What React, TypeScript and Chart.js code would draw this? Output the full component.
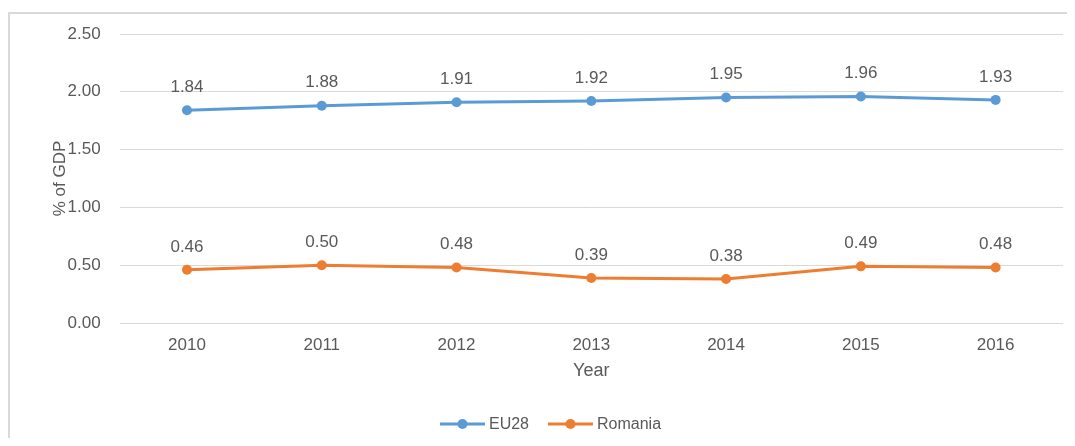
import React, { useEffect, useRef } from "react";
import { Chart, registerables } from "chart.js";

Chart.register(...registerables);

const years = ["2010", "2011", "2012", "2013", "2014", "2015", "2016"];
const eu28 = [1.84, 1.88, 1.91, 1.92, 1.95, 1.96, 1.93];
const romania = [0.46, 0.5, 0.48, 0.39, 0.38, 0.49, 0.48];
const seriesNames = ["EU28", "Romania"];
const seriesColors = ["#5B9BD5", "#ED7D31"];

const TEXT = "#595959";
const GRID = "#d9d9d9";
const FONT = "'Liberation Sans', Arial, sans-serif";
const FS = 17;

const dataLabels = {
  id: "dataLabels",
  afterDatasetsDraw(chart: any) {
    const ctx = chart.ctx;
    ctx.save();
    ctx.font = `${FS}px ${FONT}`;
    ctx.fillStyle = TEXT;
    ctx.textAlign = "center";
    ctx.textBaseline = "middle";
    chart.data.datasets.forEach((ds: any, i: number) => {
      const meta = chart.getDatasetMeta(i);
      meta.data.forEach((pt: any, j: number) => {
        ctx.fillText(Number(ds.data[j]).toFixed(2), pt.x, pt.y - 23);
      });
    });
    ctx.restore();
  },
};

const customLegend = {
  id: "customLegend",
  afterDraw(chart: any) {
    const ctx = chart.ctx;
    ctx.save();
    ctx.font = `16px ${FONT}`;
    ctx.textBaseline = "middle";
    const lineW = 45;
    const gapText = 4;
    const gapItem = 19;
    const items = chart.data.datasets.map((ds: any) => ({
      label: ds.label,
      color: ds.borderColor,
      w: lineW + gapText + ctx.measureText(ds.label).width,
    }));
    const total = items.reduce((s: number, it: any) => s + it.w, 0) + gapItem * (items.length - 1);
    let x = 540.5 - total / 2;
    const y = 410;
    items.forEach((it: any) => {
      ctx.strokeStyle = it.color;
      ctx.lineWidth = 3;
      ctx.beginPath();
      ctx.moveTo(x, y);
      ctx.lineTo(x + lineW, y);
      ctx.stroke();
      ctx.fillStyle = it.color;
      ctx.beginPath();
      ctx.arc(x + lineW / 2, y, 5, 0, Math.PI * 2);
      ctx.fill();
      ctx.fillStyle = TEXT;
      ctx.textAlign = "left";
      ctx.fillText(it.label, x + lineW + gapText, y + 1);
      x += it.w + gapItem;
    });
    ctx.restore();
  },
};

export default function App() {
  const ref = useRef<HTMLCanvasElement>(null);
  useEffect(() => {
    if (!ref.current) return;
    const chart = new Chart(ref.current, {
      type: "line",
      data: {
        labels: years,
        datasets: [
          {
            label: seriesNames[0],
            data: eu28,
            borderColor: seriesColors[0],
            backgroundColor: seriesColors[0],
            borderWidth: 3,
            pointRadius: 5,
            pointBorderWidth: 0,
            tension: 0,
          },
          {
            label: seriesNames[1],
            data: romania,
            borderColor: seriesColors[1],
            backgroundColor: seriesColors[1],
            borderWidth: 3,
            pointRadius: 5,
            pointBorderWidth: 0,
            tension: 0,
          },
        ],
      },
      options: {
        responsive: false,
        animation: false,
        layout: { padding: { left: 0, right: 12, top: 20, bottom: 45 } },
        plugins: { legend: { display: false }, tooltip: { enabled: false } },
        scales: {
          x: {
            offset: true,
            grid: { display: false, drawTicks: false },
            border: { display: false },
            ticks: { color: TEXT, font: { family: FONT, size: FS }, padding: 12 },
            title: {
              display: true,
              text: "Year",
              color: TEXT,
              font: { family: FONT, size: 18 },
              padding: { top: 0, bottom: 11 },
            },
            afterFit(scale: any) {
              scale.height = 70;
            },
          },
          y: {
            min: 0,
            max: 2.5,
            ticks: {
              stepSize: 0.5,
              color: TEXT,
              font: { family: FONT, size: FS },
              padding: 19,
              callback: (v: any) => Number(v).toFixed(2),
            },
            grid: { color: GRID, lineWidth: 1, drawTicks: false },
            border: { display: false },
            title: {
              display: true,
              text: "% of GDP",
              color: TEXT,
              font: { family: FONT, size: FS },
              padding: { top: 40, bottom: 0 },
            },
            afterFit(scale: any) {
              scale.width = 109.6;
              scale.paddingTop = 0;
              scale.paddingBottom = 0;
            },
          },
        },
      },
      plugins: [dataLabels, customLegend],
    });
    return () => chart.destroy();
  }, []);
  return (
    <div
      style={{
        marginTop: 4,
        width: 1067,
        height: 426,
        boxSizing: "border-box",
        borderTop: `2px solid ${GRID}`,
        borderLeft: `2px solid ${GRID}`,
        background: "#fff",
      }}
    >
      <canvas ref={ref} width={1065} height={424} style={{ display: "block" }} />
    </div>
  );
}
